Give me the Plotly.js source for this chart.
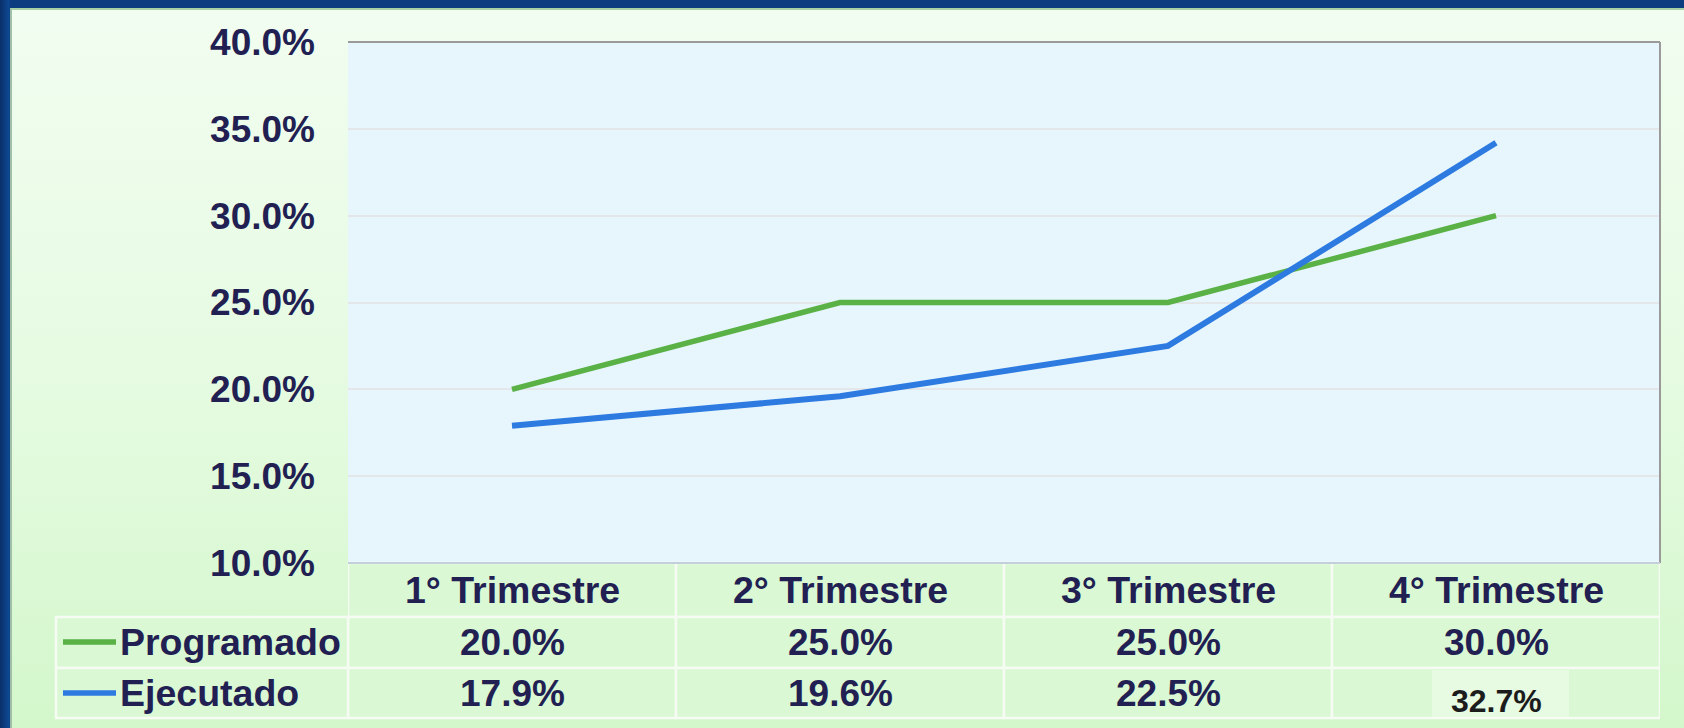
<!DOCTYPE html>
<html>
<head>
<meta charset="utf-8">
<script src="https://cdn.plot.ly/plotly-3.0.1.min.js"></script>
<style>
  html, body { margin: 0; padding: 0; width: 1684px; height: 728px; overflow: hidden; background: #0b3d80; }
  #frame { position: absolute; left: 0; top: 0; width: 1684px; height: 728px;
           background: linear-gradient(90deg, #0a2f6a 0px, #0d4a93 9px, #0b3d80 10px); }
  #panel { position: absolute; left: 10px; top: 8px; width: 1674px; height: 720px;
           border-left: 2px solid #9fbfa8; border-top: 2px solid #a9d1a6;
           background: linear-gradient(180deg, #f1fdf0 0%, #e6fbe2 50%, #d3f7cb 100%); box-sizing: border-box; }
  #chart { position: absolute; left: 0; top: 0; width: 1684px; height: 728px; }
</style>
</head>
<body>
<div id="frame"></div>
<div id="panel"></div>
<div id="chart"></div>
<script>
// ---- data ----
const categories = ["1° Trimestre", "2° Trimestre", "3° Trimestre", "4° Trimestre"];
const programado = [20.0, 25.0, 25.0, 30.0];
const ejecutado = [17.9, 19.6, 22.5, 34.2];
const programadoLabels = ["20.0%", "25.0%", "25.0%", "30.0%"];
const ejecutadoLabels = ["17.9%", "19.6%", "22.5%", "32.7%"];
const seriesNames = ["Programado", "Ejecutado"];
const yTickVals = [10, 15, 20, 25, 30, 35, 40];

// ---- style ----
const W = 1684, H = 728;
const L = 348, R = 1660, T = 42, B = 563;
const PW = R - L, PH = B - T;
const px = x => (x - L) / PW;
const py = y => (B - y) / PH;
const navy = "#221f52";
const green = "#5ab146";
const blue = "#2d7be0";
const cellFill = "#d9f8d3";
const cellLine = "#f6fcf4";
const FONT = "Arial, 'Liberation Sans', sans-serif";
const FS = 37.5;

const rows = [
  {y0: 563, y1: 617},   // header
  {y0: 617, y1: 668},   // Programado
  {y0: 668, y1: 718}    // Ejecutado
];

const traces = [
  {x: categories, y: programado, name: seriesNames[0], type: "scatter", mode: "lines",
   line: {color: green, width: 5.5}, hoverinfo: "skip"},
  {x: categories, y: ejecutado, name: seriesNames[1], type: "scatter", mode: "lines",
   line: {color: blue, width: 6}, hoverinfo: "skip"}
];

const shapes = [];
const annotations = [];

// table cells for data columns
rows.forEach((r, ri) => {
  categories.forEach((c, ci) => {
    shapes.push({type: "rect", xref: "x", yref: "paper", x0: ci - 0.5, x1: ci + 0.5,
      y0: py(r.y1), y1: py(r.y0), fillcolor: cellFill, line: {color: cellLine, width: 2.5}, layer: "below"});
  });
  if (ri > 0) {
    shapes.push({type: "rect", xref: "paper", yref: "paper", x0: px(56), x1: px(348),
      y0: py(r.y1), y1: py(r.y0), fillcolor: cellFill, line: {color: cellLine, width: 2.5}, layer: "below"});
  }
});

// plot frame
shapes.push({type: "line", xref: "paper", yref: "paper", x0: 0, x1: 1, y0: 1, y1: 1, line: {color: "#9a9a9a", width: 2}});
shapes.push({type: "line", xref: "paper", yref: "paper", x0: 1, x1: 1, y0: 0, y1: 1, line: {color: "#9a9a9a", width: 2}});
shapes.push({type: "line", xref: "paper", yref: "paper", x0: 0, x1: 1, y0: 0, y1: 0, line: {color: "#c3cfda", width: 2}});

// header labels
categories.forEach((c, ci) => {
  annotations.push({xref: "x", yref: "paper", x: ci, y: py(590), text: c, showarrow: false,
    xanchor: "center", yanchor: "middle", font: {family: FONT, size: FS, color: navy, weight: "bold"}});
});

// legend rows
const legendRows = [
  {name: seriesNames[0], color: green, labels: programadoLabels, yc: 642},
  {name: seriesNames[1], color: blue, labels: ejecutadoLabels, yc: 693}
];
legendRows.forEach((lr, li) => {
  shapes.push({type: "line", xref: "paper", yref: "paper", x0: px(63), x1: px(116),
    y0: py(lr.yc), y1: py(lr.yc), line: {color: lr.color, width: 5.5}});
  annotations.push({xref: "paper", yref: "paper", x: px(118), y: py(lr.yc), text: lr.name, showarrow: false,
    xanchor: "left", yanchor: "middle", font: {family: FONT, size: FS, color: navy, weight: "bold"}});
  lr.labels.forEach((t, ci) => {
    const special = (li === 1 && ci === 3);
    if (special) {
      shapes.push({type: "rect", xref: "paper", yref: "paper", x0: px(1432), x1: px(1569),
        y0: py(717), y1: py(670), fillcolor: "#e7fae2", line: {width: 0}});
      annotations.push({xref: "x", yref: "paper", x: ci, y: py(701), text: t, showarrow: false,
        xanchor: "center", yanchor: "middle", font: {family: FONT, size: 32, color: "#1c1c1c", weight: "bold"}});
    } else {
      annotations.push({xref: "x", yref: "paper", x: ci, y: py(lr.yc), text: t, showarrow: false,
        xanchor: "center", yanchor: "middle", font: {family: FONT, size: 37, color: navy, weight: "bold"}});
    }
  });
});

const layout = {
  width: W, height: H,
  margin: {l: L, r: W - R, t: T, b: H - B, pad: 0},
  paper_bgcolor: "rgba(0,0,0,0)",
  plot_bgcolor: "#e7f6fd",
  showlegend: false,
  xaxis: {type: "category", range: [-0.5, 3.5], showticklabels: false, showgrid: false,
          zeroline: false, showline: false, ticks: "", fixedrange: true},
  yaxis: {range: [10, 40], tickvals: yTickVals, ticktext: yTickVals.map(v => v.toFixed(1) + "%"),
          showgrid: true, gridcolor: "#e3e7e9", gridwidth: 2, zeroline: false, showline: false,
          ticks: "", ticklabelstandoff: 32,
          tickfont: {family: FONT, size: 37, color: navy, weight: "bold"}, fixedrange: true},
  shapes: shapes,
  annotations: annotations
};

Plotly.newPlot("chart", traces, layout, {displayModeBar: false, staticPlot: true});
</script>
</body>
</html>
